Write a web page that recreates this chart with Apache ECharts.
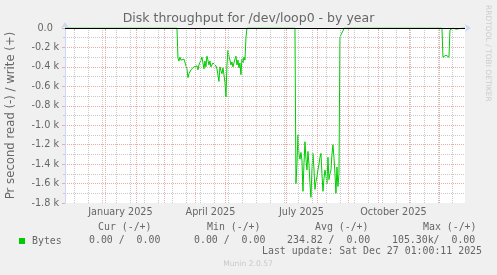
<!DOCTYPE html>
<html><head><meta charset="utf-8">
<script src="https://cdn.jsdelivr.net/npm/echarts@6/dist/echarts.min.js"></script>
<style>html,body{margin:0;padding:0;background:#f0f0f0;}#c{width:497px;height:275px;}</style>
</head><body><div id="c"></div>
<script>
// ---- data ----
const chartStart = [2024, 11, 22, 1];   // y, m, d, h
const chartEnd = [2025, 12, 27, 1];
const yMin = -1800, yMax = 0, yStep = 200;
const yTickLabels = ['-1.8 k','-1.6 k','-1.4 k','-1.2 k','-1.0 k','-0.8 k','-0.6 k','-0.4 k','-0.2 k','0.0  '];
const xLabelMonths = ['2025-01', '2025-04', '2025-07', '2025-10'];
const xLabelTexts = ['January 2025', 'April 2025', 'July 2025', 'October 2025'];
const minorGridDates = ['2024-12-01','2024-12-15','2024-12-29','2025-01-12','2025-01-26','2025-02-09','2025-02-23',
  '2025-03-09','2025-03-23','2025-04-06','2025-04-20','2025-05-04','2025-05-18','2025-06-01','2025-06-15',
  '2025-06-29','2025-07-13','2025-07-27','2025-08-10','2025-08-24','2025-09-07','2025-09-21','2025-10-05',
  '2025-10-19','2025-11-02','2025-11-16','2025-11-30','2025-12-14'];

const seg1Start = '2025-03-15';
const seg1Reads = [-310,-340,-300,-330,-310,-340,-320,-330,-330,-420,
  -510,-470,-450,-430,-410,-440,-400,-380,-420,-390,
  -430,-380,-400,-330,-300,-360,-420,-340,-400,-290,
  -330,-380,-340,-400,-380,-360,-380,-350,-390,-420,
  -410,-550,-400,-440,-470,-410,-480,-560,-710,-380,
  -230,-290,-330,-380,-350,-400,-360,-320,-290,-380,
  -330,-410,-360,-480,-320,-360,-300,-330,-100];
const seg2Start = '2025-07-11';
const seg2Reads = [-1600,-1400,-1100,-1300,-1350,-1280,-1360,-1680,-1400,-1170,
  -1350,-1460,-1270,-1400,-1600,-1742,-1460,-1290,-1450,-1660,
  -1580,-1530,-1460,-1400,-1330,-1290,-1500,-1680,-1550,-1460,
  -1520,-1600,-1330,-1560,-1500,-1460,-1300,-1200,-1330,-1500,
  -1700,-1430,-1630,-1500,-100,-70,-80,-30];
const seg3Start = '2025-12-05';
const seg3Reads = [-300,-280,-280,-280,-280,-280,-300,-20];
const blipDates = ['2024-12-13','2025-02-15','2025-02-22','2025-06-13','2025-06-17','2025-09-27','2025-10-01',
  '2025-10-07','2025-11-02','2025-11-08','2025-12-14','2025-12-18','2025-12-26'];
const blipReads = [-12,-10,-12,-10,-10,-12,-10,-12,-10,-10,-10,-12,-10];

const legendHeaders = ['Cur (-/+)', 'Min (-/+)', 'Avg (-/+)', 'Max (-/+)'];
const legendValues = ['0.00 /  0.00', '0.00 /  0.00', '234.82 /  0.00', '105.30k/  0.00'];
const lastUpdate = 'Last update: Sat Dec 27 01:00:11 2025';

// ---- build ----
const DAY = 86400000;
function ts(s, add) { const p = s.split('-').map(Number); return new Date(p[0], p[1]-1, p[2] + (add||0)).getTime(); }
const tStart = new Date(chartStart[0], chartStart[1]-1, chartStart[2], chartStart[3]).getTime();
const tEnd = new Date(chartEnd[0], chartEnd[1]-1, chartEnd[2], chartEnd[3]).getTime();
const pts = [];
function addRun(start, vals) {
  pts.push([ts(start, -1), 0]);
  vals.forEach((v, i) => pts.push([ts(start, i), v]));
  pts.push([ts(start, vals.length), 0]);
}
addRun(seg1Start, seg1Reads);
addRun(seg2Start, seg2Reads);
addRun(seg3Start, seg3Reads);
blipDates.forEach((d, i) => addRun(d, [blipReads[i]]));
pts.push([tStart, 0], [tEnd, 0]);
pts.sort((a, b) => a[0] - b[0]);

const FONT = 'DejaVu Sans', MONO = 'DejaVu Sans Mono';
const TXT = '#666666';
const MAJ = '#eeaaaa', MIN = '#c8c8c8', AXIS = '#cfd6f8';

const chart = echarts.init(document.getElementById('c'), null, {renderer: 'canvas'});
const mono = (text, x, y, extra) => Object.assign({type: 'text', x: x, y: y, silent: true,
  style: {text: text, font: '9.9px "' + MONO + '"', fill: TXT, align: 'left', verticalAlign: 'middle'}}, extra || {});

chart.setOption({
  animation: false,
  backgroundColor: '#f0f0f0',
  title: {text: 'Disk throughput for /dev/loop0 - by year', left: 'center', top: 12, padding: 0,
    textStyle: {fontFamily: FONT, fontSize: 12.5, fontWeight: 'normal', color: TXT}},
  legend: {left: 14, top: 231, itemWidth: 6, itemHeight: 6, icon: 'rect', selectedMode: false, data: ['Bytes'],
    textStyle: {fontFamily: MONO, fontSize: 9.9, color: TXT, padding: [0, 0, 0, 2]}},
  grid: {left: 65, top: 28, width: 400, height: 175, show: true, backgroundColor: '#ffffff', borderWidth: 0,
    outerBoundsMode: 'none', containLabel: false},
  xAxis: {
    type: 'time', min: tStart, max: tEnd, minInterval: 28 * DAY, maxInterval: 31 * DAY,
    axisLine: {show: true, lineStyle: {color: AXIS}, symbol: ['none', 'arrow'], symbolSize: [6, 6], symbolOffset: [0, 6]},
    axisTick: {show: true, length: 3, lineStyle: {color: MAJ}},
    splitLine: {show: true, showMinLine: false, showMaxLine: false, lineStyle: {color: MAJ, type: [1, 1]}},
    axisLabel: {
      color: TXT, fontFamily: FONT, fontSize: 9.7, margin: 4, align: 'center', padding: [0, 0, 0, 31],
      showMinLabel: false, showMaxLabel: false, hideOverlap: false,
      formatter: function (v) {
        const d = new Date(v);
        if (d.getDate() !== 1 || d.getHours() !== 0) return '';
        const key = d.getFullYear() + '-' + String(d.getMonth() + 1).padStart(2, '0');
        const i = xLabelMonths.indexOf(key);
        return i >= 0 ? xLabelTexts[i] : '';
      }
    }
  },
  yAxis: {
    type: 'value', min: yMin, max: yMax, interval: yStep,
    name: 'Pr second read (-) / write (+)', nameLocation: 'middle', nameRotate: 90, nameGap: 48,
    nameTextStyle: {fontFamily: FONT, fontSize: 11.7, color: TXT},
    axisLine: {show: true, lineStyle: {color: AXIS}, symbol: ['none', 'arrow'], symbolSize: [6, 6], symbolOffset: [0, 6]},
    axisTick: {show: true, length: 3, lineStyle: {color: MAJ}},
    minorTick: {show: true, splitNumber: 2, length: 2, lineStyle: {color: MIN}},
    splitLine: {show: true, showMinLine: false, showMaxLine: false, lineStyle: {color: MAJ, type: [1, 1]}},
    minorSplitLine: {show: true, lineStyle: {color: MIN, type: [1, 1]}},
    axisLabel: {color: TXT, fontFamily: FONT, fontSize: 9.7, margin: 6,
      formatter: function (v) { return yTickLabels[Math.round((v - yMin) / yStep)]; }}
  },
  series: [
    {type: 'line', name: 'minor', data: [[tStart, null]], z: 1, silent: true, symbol: 'none',
      markLine: {symbol: 'none', silent: true, animation: false, label: {show: false},
        lineStyle: {color: MIN, type: [1, 1], width: 1},
        data: minorGridDates.map(d => ({xAxis: ts(d)}))}},
    {type: 'line', name: 'Bytes', data: pts, z: 3, symbol: 'none', showSymbol: false,
      lineStyle: {color: '#00cc00', width: 1}, itemStyle: {color: '#00cc00'}},
    {type: 'line', name: 'zero', data: [], z: 5, silent: true,
      markLine: {symbol: 'none', silent: true, animation: false, label: {show: false},
        lineStyle: {color: '#000000', type: 'solid', width: 1}, data: [{yAxis: 0}]}}
  ],
  graphic: [
    mono(legendHeaders[0], 98, 227.3), mono(legendHeaders[1], 207, 227.3),
    mono(legendHeaders[2], 315, 227.3), mono(legendHeaders[3], 423, 227.3),
    mono(legendValues[0], 89, 240), mono(legendValues[1], 194, 240),
    mono(legendValues[2], 287, 240), mono(legendValues[3], 392, 240),
    mono(lastUpdate, 262, 251.7),
    {type: 'text', x: 248, y: 264, silent: true,
      style: {text: 'Munin 2.0.57', font: '7.6px "' + FONT + '"', fill: '#c8c8c8', align: 'center', verticalAlign: 'middle'}},
    {type: 'text', x: 488, y: 5, rotation: -Math.PI / 2, silent: true,
      style: {text: 'RRDTOOL / TOBI OETIKER', font: '7.5px "' + FONT + '"', fill: '#cccccc', align: 'left', verticalAlign: 'middle'}}
  ]
});
</script></body></html>
